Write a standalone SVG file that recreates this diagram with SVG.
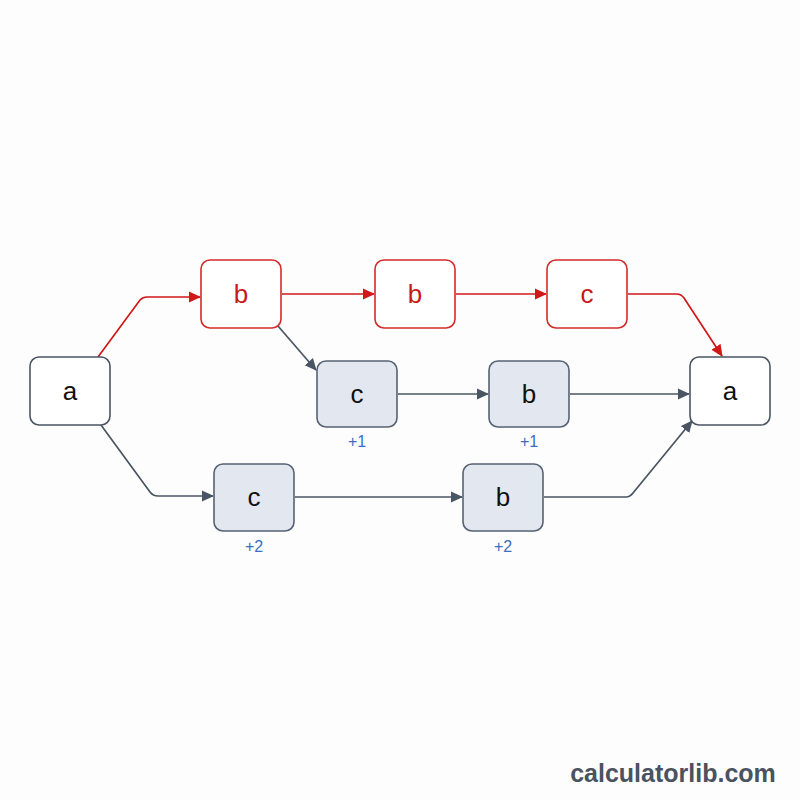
<svg xmlns="http://www.w3.org/2000/svg" width="800" height="800" viewBox="0 0 800 800">
<style>
.n rect{stroke-width:1.6}
.w rect{fill:#fff;stroke:#4a5563}
.r rect{fill:#fff;stroke:#d42a2a}
.g rect{fill:#e3e8f0;stroke:#566272}
text{font-family:"Liberation Sans",Arial,sans-serif;text-anchor:middle}
.n text{font-size:26px;fill:#111}
.r text{fill:#c81818}
.d{font-size:16px;fill:#3a6fc0}
.e{fill:none;stroke-width:1.7}
.k{stroke:#4a5563}
.red{stroke:#d01818}
</style>
<defs>
<marker id="ak" markerWidth="12" markerHeight="12" refX="11" refY="6" orient="auto" markerUnits="userSpaceOnUse" viewBox="0 0 12 12"><path d="M0,0.5L12,6L0,11.5z" fill="#4a5563"/></marker>
<marker id="ar" markerWidth="12" markerHeight="12" refX="11" refY="6" orient="auto" markerUnits="userSpaceOnUse" viewBox="0 0 12 12"><path d="M0,0.5L12,6L0,11.5z" fill="#d01818"/></marker>
</defs>
<rect width="800" height="800" fill="#fdfdfd"/>
<g id="edges">
<path class="e red" d="M98,357L140,300Q143,297 147,297L200,297" marker-end="url(#ar)"/>
<path class="e red" d="M282,294L374,294" marker-end="url(#ar)"/>
<path class="e red" d="M456,294L546,294" marker-end="url(#ar)"/>
<path class="e red" d="M628,294L677,294Q681,294 684,298L722,356" marker-end="url(#ar)"/>
<path class="e k" d="M278,326L316,370" marker-end="url(#ak)"/>
<path class="e k" d="M398,394L488,394" marker-end="url(#ak)"/>
<path class="e k" d="M570,394L689,394" marker-end="url(#ak)"/>
<path class="e k" d="M101,425L150,492Q153,496 158,496L213,496" marker-end="url(#ak)"/>
<path class="e k" d="M295,497L462,497" marker-end="url(#ak)"/>
<path class="e k" d="M544,497L626,497Q630,497 633,493L692,421" marker-end="url(#ak)"/>
</g>
<g id="a1" class="n w"><rect x="30" y="357" width="80" height="68" rx="9"/><text x="70" y="400">a</text></g>
<g id="b1" class="n r"><rect x="201" y="260" width="80" height="68" rx="9"/><text x="241" y="303">b</text></g>
<g id="b2" class="n r"><rect x="375" y="260" width="80" height="68" rx="9"/><text x="415" y="303">b</text></g>
<g id="c1" class="n r"><rect x="547" y="260" width="80" height="68" rx="9"/><text x="587" y="303">c</text></g>
<g id="c2" class="n g"><rect x="317" y="361" width="80" height="66" rx="9"/><text x="357" y="403">c</text></g>
<g id="b3" class="n g"><rect x="489" y="361" width="80" height="66" rx="9"/><text x="529" y="403">b</text></g>
<g id="a2" class="n w"><rect x="690" y="357" width="80" height="68" rx="9"/><text x="730" y="400">a</text></g>
<g id="c3" class="n g"><rect x="214" y="464" width="80" height="67" rx="9"/><text x="254" y="506">c</text></g>
<g id="b4" class="n g"><rect x="463" y="464" width="80" height="67" rx="9"/><text x="503" y="506">b</text></g>
<g id="deltas">
<text class="d" x="357" y="447">+1</text>
<text class="d" x="529" y="447">+1</text>
<text class="d" x="254" y="552">+2</text>
<text class="d" x="503" y="552">+2</text>
</g>
<text x="673" y="782" style="font-size:25px;font-weight:bold;fill:#4a5260">calculatorlib.com</text>
</svg>
